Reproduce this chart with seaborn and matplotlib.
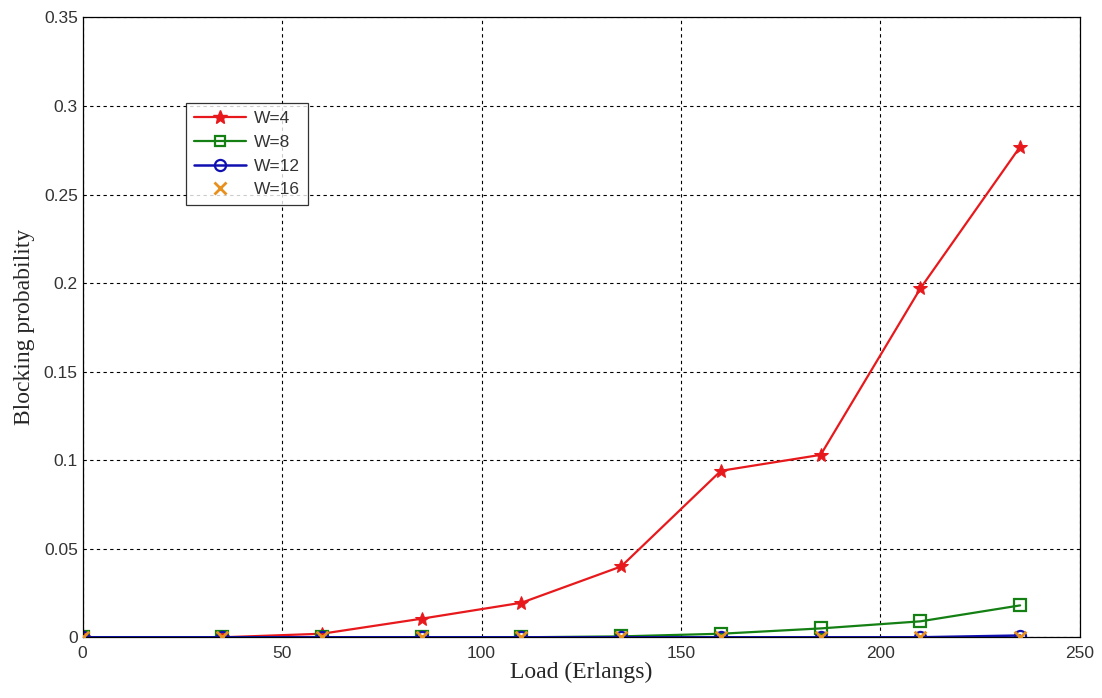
import numpy as np
import pandas as pd
import seaborn as sns
import matplotlib.pyplot as plt
from matplotlib.lines import Line2D

# Data
load = [0, 35, 60, 85, 110, 135, 160, 185, 210, 235]
w4 = [0, 0, 0.002, 0.0105, 0.0195, 0.040, 0.094, 0.103, 0.197, 0.277]
w8 = [0, 0, 0, 0, 0, 0.0005, 0.002, 0.005, 0.009, 0.018]
w12 = [0, 0, 0, 0, 0, 0, 0, 0, 0, 0.001]
w16 = [0, 0, 0, 0, 0, 0, 0, 0, 0, 0]

sns.set_style("white")
plt.rcParams['font.family'] = ['Liberation Sans', 'DejaVu Sans']

fig, ax = plt.subplots(figsize=(11.02, 6.98), dpi=100)
fig.subplots_adjust(left=0.075, right=0.98, top=0.975, bottom=0.087)

sns.lineplot(x=load, y=w4, ax=ax, color='#e8191c', marker='*', markersize=10,
             markeredgecolor='#e8191c', linewidth=1.6)
sns.lineplot(x=load, y=w8, ax=ax, color='#148014', marker='s', markersize=8,
             markerfacecolor='none', markeredgecolor='#148014', markeredgewidth=1.6, linewidth=1.6)
sns.lineplot(x=load, y=w12, ax=ax, color='#1010b0', marker='o', markersize=8,
             markerfacecolor='none', markeredgecolor='#1010b0', markeredgewidth=1.6, linewidth=1.8)
sns.scatterplot(x=load, y=w16, ax=ax, color='#e8901e', marker='x', s=70, linewidth=2, zorder=5)

ax.set_xlim(0, 250)
ax.set_ylim(0, 0.35)
ax.set_xticks([0, 50, 100, 150, 200, 250])
ax.set_yticks([0, 0.05, 0.1, 0.15, 0.2, 0.25, 0.3, 0.35])
ax.set_yticklabels(['0', '0.05', '0.1', '0.15', '0.2', '0.25', '0.3', '0.35'])
ax.grid(True, color='black', linestyle=(0, (3, 3)), linewidth=0.8)
ax.tick_params(direction='in', length=5, labelsize=12.5, colors='black', labelcolor='#333333')
ax.tick_params(axis='x', pad=6)
for s in ax.spines.values():
    s.set_color('black')
    s.set_linewidth(0.9)

ax.set_xlabel('Load (Erlangs)', fontsize=17, family='Liberation Serif', labelpad=1)
ax.set_ylabel('Blocking probability', fontsize=17, family='Liberation Serif', labelpad=6)

handles = [
    Line2D([], [], color='#e8191c', marker='*', markersize=10, linewidth=1.6),
    Line2D([], [], color='#148014', marker='s', markersize=7, markerfacecolor='none', markeredgewidth=1.6, linewidth=1.6),
    Line2D([], [], color='#1010b0', marker='o', markersize=8, markerfacecolor='none', markeredgewidth=1.6, linewidth=1.8),
    Line2D([], [], color='#e8901e', marker='x', markersize=9, markeredgewidth=2, linestyle='none'),
]
leg = ax.legend(handles, ['W=4', 'W=8', 'W=12', 'W=16'], loc='upper left',
                bbox_to_anchor=(0.104, 0.862), fontsize=12.5, frameon=True, fancybox=False,
                edgecolor='black', borderpad=0.45, labelspacing=0.5, handlelength=3.0,
                handletextpad=0.45, borderaxespad=0)
leg.get_frame().set_linewidth(0.9)
for t in leg.get_texts():
    t.set_color('#333333')

fig.savefig('out.png', dpi=100)
